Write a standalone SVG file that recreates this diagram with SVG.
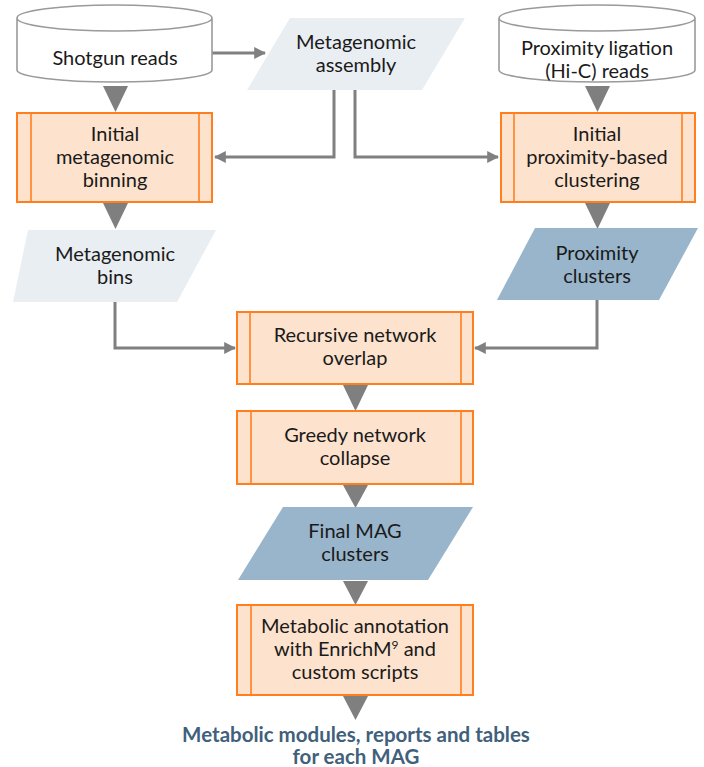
<svg xmlns="http://www.w3.org/2000/svg" width="704" height="767" viewBox="0 0 704 767">
<defs>
<style>
.t{font-family:Lato,"Open Sans","Liberation Sans",sans-serif;font-size:20px;fill:#1a1a1a;text-anchor:middle}
.b{font-family:Lato,"Open Sans","Liberation Sans",sans-serif;font-size:20.5px;font-weight:bold;fill:#41607b;text-anchor:middle}
.cyl{fill:#ffffff;stroke:#9a9a9a;stroke-width:1.6}
.proc{fill:#fde3cd;stroke:#ff7f1e;stroke-width:2}
.pin{fill:none;stroke:#ff7f1e;stroke-width:1.6}
.light{fill:#e9eef3}
.dark{fill:#98b5cb}
.tri{fill:#7f7f7f}
.ln{fill:none;stroke:#808080;stroke-width:3}
</style>
<marker id="ah" viewBox="0 0 10 10" refX="9" refY="5" markerWidth="4" markerHeight="4" markerUnits="strokeWidth" orient="auto">
<path d="M0,0 L10,5 L0,10 z" fill="#808080"/>
</marker>
</defs>

<g id="connectors">
<line class="ln" x1="212" y1="53" x2="265" y2="53" marker-end="url(#ah)"/>
<polyline class="ln" points="334,90 334,157 215,157" marker-end="url(#ah)"/>
<polyline class="ln" points="355,90 355,157 498,157" marker-end="url(#ah)"/>
<polyline class="ln" points="115,302 115,348 235,348" marker-end="url(#ah)"/>
<polyline class="ln" points="597,300 597,348 475,348" marker-end="url(#ah)"/>
<polygon class="tri" points="103,86 128,86 115.5,112"/>
<polygon class="tri" points="585,86 610,86 597.5,112"/>
<polygon class="tri" points="103,203 128,203 115.5,229"/>
<polygon class="tri" points="585,203 610,203 597.5,229"/>
<polygon class="tri" points="343,385 368,385 355.5,411"/>
<polygon class="tri" points="343,485 368,485 355.5,508"/>
<polygon class="tri" points="343,581 368,581 355.5,605"/>
<polygon class="tri" points="343,696 368,696 355.5,720"/>
</g>

<g id="shotgun">
<path class="cyl" d="M17,18 L17,70 A97.5,12 0 0 0 212,70 L212,18 A97.5,13 0 0 0 17,18 A97.5,13 0 0 0 212,18"/>
<text class="t" x="115" y="65">Shotgun reads</text>
</g>

<g id="assembly">
<polygon class="light" points="290,18 465,18 422,90 247,90"/>
<text class="t" x="356" y="49">Metagenomic</text>
<text class="t" x="356" y="72">assembly</text>
</g>

<g id="hic">
<path class="cyl" d="M499,18 L499,70 A98,12 0 0 0 695,70 L695,18 A98,13 0 0 0 499,18 A98,13 0 0 0 695,18"/>
<text class="t" x="597" y="55">Proximity ligation</text>
<text class="t" x="597" y="78">(Hi-C) reads</text>
</g>

<g id="binning">
<rect class="proc" x="17" y="113" width="195" height="89"/>
<line class="pin" x1="31" y1="113" x2="31" y2="202"/>
<line class="pin" x1="199" y1="113" x2="199" y2="202"/>
<text class="t" x="115" y="141">Initial</text>
<text class="t" x="115" y="164">metagenomic</text>
<text class="t" x="115" y="187">binning</text>
</g>

<g id="proxclust">
<rect class="proc" x="501" y="113" width="194" height="89"/>
<line class="pin" x1="514" y1="113" x2="514" y2="202"/>
<line class="pin" x1="682" y1="113" x2="682" y2="202"/>
<text class="t" x="597" y="141">Initial</text>
<text class="t" x="597" y="164">proximity-based</text>
<text class="t" x="597" y="187">clustering</text>
</g>

<g id="bins">
<polygon class="light" points="28,230 216,230 177,302 13,302"/>
<text class="t" x="115" y="261">Metagenomic</text>
<text class="t" x="115" y="284">bins</text>
</g>

<g id="clusters">
<polygon class="dark" points="535,228 698,228 659,300 497,300"/>
<text class="t" x="597" y="260">Proximity</text>
<text class="t" x="597" y="283">clusters</text>
</g>

<g id="overlap">
<rect class="proc" x="237" y="312" width="236" height="72"/>
<line class="pin" x1="250" y1="312" x2="250" y2="384"/>
<line class="pin" x1="461" y1="312" x2="461" y2="384"/>
<text class="t" x="355" y="342">Recursive network</text>
<text class="t" x="355" y="365">overlap</text>
</g>

<g id="collapse">
<rect class="proc" x="237" y="411" width="236" height="73"/>
<line class="pin" x1="251" y1="411" x2="251" y2="484"/>
<line class="pin" x1="461" y1="411" x2="461" y2="484"/>
<text class="t" x="355" y="442">Greedy network</text>
<text class="t" x="355" y="465">collapse</text>
</g>

<g id="final">
<polygon class="dark" points="283,507 473,507 428,580 238,580"/>
<text class="t" x="355" y="538">Final MAG</text>
<text class="t" x="355" y="561">clusters</text>
</g>

<g id="annotation">
<rect class="proc" x="237" y="605" width="236" height="90"/>
<line class="pin" x1="251" y1="605" x2="251" y2="695"/>
<line class="pin" x1="461" y1="605" x2="461" y2="695"/>
<text class="t" x="355" y="633">Metabolic annotation</text>
<text class="t" x="355" y="656">with EnrichM<tspan font-size="12" dy="-7">9</tspan><tspan dy="7"> and</tspan></text>
<text class="t" x="355" y="679">custom scripts</text>
</g>

<g id="output">
<text class="b" x="356" y="742">Metabolic modules, reports and tables</text>
<text class="b" x="356" y="764">for each MAG</text>
</g>
</svg>
